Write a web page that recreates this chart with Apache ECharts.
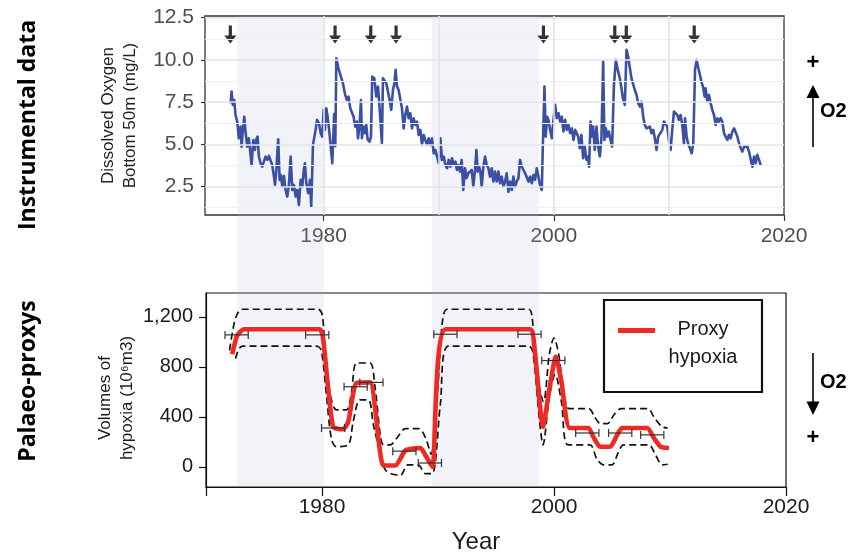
<!DOCTYPE html>
<html>
<head>
<meta charset="utf-8">
<script src="https://cdn.jsdelivr.net/npm/echarts@6/dist/echarts.min.js"></script>
<style>
  html, body { margin: 0; padding: 0; background: #fff; }
  #chart { width: 849px; height: 556px; }
</style>
</head>
<body>
<div id="chart"></div>
<script>
var FONT = '"Liberation Sans", Arial, sans-serif'

// instrumental record: dissolved oxygen at 50 m (mg/L)
var doYear = [1971.92, 1972.01, 1972.12, 1972.24, 1972.35, 1972.50, 1972.64, 1972.79, 1972.88, 1972.99,
  1973.11, 1973.22, 1973.37, 1973.51, 1973.66, 1973.75, 1973.89, 1974.04, 1974.15, 1974.27,
  1974.38, 1974.53, 1974.67, 1974.82, 1974.96, 1975.11, 1975.25, 1975.40, 1975.54, 1975.69,
  1975.78, 1975.92, 1976.06, 1976.18, 1976.30, 1976.41, 1976.56, 1976.70, 1976.85, 1976.99,
  1977.14, 1977.28, 1977.43, 1977.57, 1977.72, 1977.86, 1978.01, 1978.15, 1978.30, 1978.38,
  1978.50, 1978.67, 1978.82, 1978.93, 1979.08, 1979.20, 1979.31, 1979.43, 1979.60, 1979.75,
  1979.89, 1980.01, 1980.12, 1980.24, 1980.35, 1980.47, 1980.62, 1980.76, 1980.92, 1981.02,
  1981.11, 1981.28, 1981.45, 1981.68, 1981.88, 1982.03, 1982.17, 1982.32, 1982.46, 1982.61,
  1982.75, 1982.90, 1982.99, 1983.13, 1983.25, 1983.33, 1983.48, 1983.62, 1983.71, 1983.83,
  1984.00, 1984.12, 1984.23, 1984.41, 1984.58, 1984.73, 1984.87, 1985.07, 1985.16, 1985.30,
  1985.45, 1985.59, 1985.74, 1985.88, 1986.03, 1986.15, 1986.26, 1986.38, 1986.52, 1986.67,
  1986.81, 1986.96, 1987.10, 1987.25, 1987.39, 1987.54, 1987.68, 1987.83, 1987.97, 1988.12,
  1988.26, 1988.41, 1988.55, 1988.70, 1988.84, 1988.99, 1989.13, 1989.28, 1989.42, 1989.57,
  1989.71, 1989.86, 1990.00, 1990.15, 1990.29, 1990.44, 1990.58, 1990.73, 1990.87, 1991.02,
  1991.16, 1991.30, 1991.45, 1991.59, 1991.71, 1991.86, 1992.00, 1992.14, 1992.29, 1992.43,
  1992.58, 1992.72, 1992.87, 1993.01, 1993.16, 1993.28, 1993.39, 1993.51, 1993.62, 1993.74,
  1993.88, 1994.03, 1994.17, 1994.32, 1994.46, 1994.61, 1994.75, 1994.90, 1995.04, 1995.19,
  1995.33, 1995.48, 1995.62, 1995.77, 1995.91, 1996.06, 1996.20, 1996.35, 1996.49, 1996.64,
  1996.78, 1996.93, 1997.07, 1997.22, 1997.36, 1997.51, 1997.65, 1997.80, 1997.94, 1998.09,
  1998.23, 1998.38, 1998.52, 1998.67, 1998.81, 1998.96, 1999.04, 1999.19, 1999.30, 1999.42,
  1999.54, 1999.68, 1999.83, 1999.97, 2000.12, 2000.26, 2000.41, 2000.55, 2000.70, 2000.84,
  2000.99, 2001.13, 2001.28, 2001.42, 2001.57, 2001.71, 2001.86, 2002.12, 2002.26, 2002.40,
  2002.55, 2002.69, 2002.84, 2002.98, 2003.07, 2003.19, 2003.30, 2003.42, 2003.56, 2003.71,
  2003.85, 2004.00, 2004.14, 2004.29, 2004.40, 2004.52, 2004.64, 2004.78, 2004.93, 2005.07,
  2005.22, 2005.39, 2005.56, 2005.74, 2005.88, 2006.03, 2006.17, 2006.32, 2006.46, 2006.61,
  2006.75, 2006.90, 2007.04, 2007.19, 2007.33, 2007.48, 2007.62, 2007.77, 2007.91, 2008.06,
  2008.20, 2008.35, 2008.49, 2008.64, 2008.78, 2008.93, 2009.07, 2009.22, 2009.43, 2009.57,
  2009.71, 2009.86, 2010.00, 2010.15, 2010.29, 2010.44, 2010.58, 2010.73, 2010.87, 2011.02,
  2011.16, 2011.31, 2011.40, 2011.54, 2011.66, 2011.83, 2011.98, 2012.12, 2012.27, 2012.41,
  2012.56, 2012.70, 2012.82, 2012.96, 2013.11, 2013.19, 2013.34, 2013.48, 2013.63, 2013.77,
  2013.92, 2014.06, 2014.21, 2014.35, 2014.50, 2014.64, 2014.79, 2014.93, 2015.08, 2015.22,
  2015.37, 2015.51, 2015.66, 2015.80, 2015.95, 2016.09, 2016.24, 2016.38, 2016.53, 2016.67,
  2016.82, 2016.96, 2017.11, 2017.25, 2017.40, 2017.54, 2017.68, 2017.83, 2017.97]
var doValue = [7.43, 8.13, 7.34, 7.63, 6.74, 6.35, 5.36, 6.05, 4.87, 5.86,
  6.64, 5.76, 4.87, 5.36, 5.46, 3.78, 5.26, 4.67, 5.30, 5.46,
  4.28, 3.88, 3.68, 3.59, 4.28, 4.08, 4.32, 4.28, 3.78, 3.09,
  2.60, 3.68, 5.30, 2.90, 3.19, 2.50, 3.13, 2.30, 1.91, 2.60,
  4.28, 2.30, 2.60, 1.91, 2.30, 1.41, 2.90, 2.50, 3.59, 3.88,
  2.70, 2.11, 2.90, 1.32, 4.97, 5.07, 5.86, 6.45, 6.25, 5.66,
  5.46, 7.04, 5.86, 7.14, 6.64, 5.95, 5.95, 3.88, 6.80, 4.90,
  10.10, 9.55, 9.15, 8.62, 7.93, 7.63, 7.83, 7.14, 7.04, 6.64,
  6.05, 6.35, 5.36, 6.15, 7.63, 5.36, 6.05, 5.66, 6.15, 5.30,
  5.16, 5.46, 9.01, 8.91, 7.83, 8.42, 7.14, 5.07, 8.91, 9.01,
  8.62, 8.72, 7.63, 7.04, 8.22, 8.62, 9.41, 8.42, 8.22, 8.13,
  7.14, 5.95, 6.74, 7.24, 6.55, 6.84, 5.95, 6.55, 6.15, 6.35,
  5.56, 5.86, 4.97, 5.56, 5.26, 4.97, 5.36, 4.97, 5.36, 4.47,
  4.67, 4.28, 3.88, 5.36, 4.08, 4.28, 3.78, 3.59, 4.08, 3.68,
  4.18, 3.78, 3.98, 3.49, 3.78, 3.39, 4.08, 2.30, 3.59, 3.00,
  3.29, 3.19, 3.49, 2.50, 3.49, 4.67, 3.39, 3.68, 3.39, 2.50,
  3.68, 4.28, 3.78, 3.59, 3.09, 3.59, 2.80, 3.39, 2.80, 3.39,
  2.70, 3.09, 2.50, 2.80, 3.29, 2.20, 2.80, 2.30, 3.09, 2.50,
  2.80, 3.00, 4.08, 3.68, 3.78, 3.29, 3.39, 2.80, 3.09, 2.70,
  3.19, 2.90, 3.59, 3.59, 2.60, 2.30, 4.67, 8.42, 5.46, 6.64,
  6.45, 5.86, 5.36, 6.45, 7.34, 6.55, 6.84, 6.35, 6.64, 5.76,
  6.45, 5.86, 6.15, 5.66, 5.95, 5.26, 5.86, 5.46, 4.77, 5.56,
  4.18, 4.87, 4.08, 4.28, 3.68, 6.35, 5.46, 6.05, 4.67, 6.05,
  4.87, 4.28, 5.36, 9.90, 5.26, 5.95, 5.46, 5.76, 5.26, 4.87,
  8.42, 10.00, 9.41, 8.91, 8.32, 7.63, 7.34, 10.60, 10.20, 10.30,
  8.91, 9.01, 8.22, 7.93, 7.43, 7.24, 7.53, 6.64, 6.15, 5.95,
  5.86, 6.05, 5.66, 5.86, 5.36, 4.67, 5.46, 5.56, 5.86, 6.35,
  6.45, 6.05, 5.26, 4.67, 5.86, 6.94, 6.84, 6.74, 6.45, 6.74,
  6.15, 5.07, 6.55, 5.46, 5.07, 4.77, 4.47, 5.07, 9.41, 10.00,
  9.51, 9.11, 8.72, 8.42, 7.83, 8.32, 7.53, 7.93, 7.43, 7.04,
  6.74, 6.15, 6.55, 6.35, 6.55, 6.35, 5.66, 5.46, 5.26, 5.56,
  5.36, 5.76, 5.95, 5.86, 5.46, 5.07, 4.77, 4.57, 4.87, 4.77,
  4.87, 4.57, 4.67, 3.68, 4.28, 3.88, 4.38, 4.08, 3.78]

// reoxygenation events marked with arrows
var arrowYear = [1971.9, 1981.0, 1984.1, 1986.3, 1999.1, 2005.3, 2006.3, 2012.2]
var arrowLevel = 11.5

// palaeo-proxy reconstruction (10^6 m3)
var proxyYear = [1972.26, 1972.69, 1973.27, 1979.80, 1980.09, 1980.95, 1981.82, 1982.26, 1982.98, 1984.14,
  1985.30, 1986.32, 1987.19, 1988.49, 1988.93, 1989.51, 1990.67, 1997.94, 1998.32, 1999.05,
  1999.62, 2000.15, 2000.64, 2001.36, 2002.96, 2003.39, 2003.97, 2004.84, 2005.42, 2005.86,
  2008.03, 2008.61, 2009.19, 2009.91]
var proxyValue = [900, 1050, 1100, 1100, 1030, 320, 300, 360, 670, 675,
  10, 10, 130, 150, 90, 0, 1100, 1100, 950, 320,
  630, 880, 680, 310, 310, 240, 160, 160, 250, 310,
  310, 230, 160, 150]
var upperYear = [1972.03, 1972.55, 1973.13, 1979.65, 1980.03, 1980.23, 1980.67, 1981.25, 1982.11, 1982.55,
  1982.98, 1984.14, 1984.58, 1985.30, 1985.88, 1986.46, 1987.19, 1988.35, 1988.93, 1989.40,
  1989.94, 1990.38, 1990.81, 1997.83, 1998.12, 1998.50, 1999.10, 1999.60, 2000.00, 2000.40,
  2000.90, 2001.30, 2003.00, 2003.50, 2004.00, 2004.60, 2005.20, 2005.80, 2008.10, 2008.60,
  2009.30, 2009.80]
var upperValue = [930, 1190, 1260, 1260, 1210, 970, 600, 455, 455, 600,
  830, 830, 630, 175, 175, 230, 305, 305, 230, 100,
  575, 1160, 1260, 1260, 1190, 760, 520, 900, 1030, 900,
  560, 465, 465, 400, 345, 345, 420, 465, 465, 400,
  320, 310]
var lowerYear = [1972.55, 1973.13, 1979.51, 1979.94, 1980.38, 1980.81, 1981.25, 1982.26, 1982.69, 1983.27,
  1984.00, 1984.43, 1985.00, 1985.50, 1986.75, 1987.40, 1988.30, 1988.90, 1989.50, 1990.20,
  1990.90, 1997.83, 1998.17, 1998.76, 1999.05, 1999.60, 2000.10, 2000.64, 2001.22, 2003.10,
  2003.68, 2004.26, 2004.99, 2005.57, 2006.00, 2008.17, 2008.75, 2009.33, 2009.80]
var lowerValue = [865, 965, 965, 930, 575, 225, 160, 175, 360, 535,
  535, 335, 120, -30, -70, 15, 15, -55, -55, 500,
  965, 965, 920, 360, 175, 560, 740, 520, 175, 175,
  65, 15, 15, 120, 175, 175, 95, 15, 20]
var errYear = [1972.64, 1979.59, 1980.96, 1982.90, 1984.26, 1987.10, 1989.30, 1990.64, 1997.89, 1999.94,
  2002.87, 2005.71, 2008.47]
var errValue = [1055, 1055, 310, 640, 675, 125, 30, 1060, 1060, 850, 270, 270, 255]
var errHalf = [1.0, 1.0, 1.0, 1.0, 1.0, 1.0, 1.0, 1.0, 1.0, 1.0, 1.0, 1.0, 1.0]

// shaded periods
var bandStart = [1972.5, 1989.4]
var bandEnd = [1980.0, 1998.7]

// ticks and grid lines
var topTicksX = [1980, 2000, 2020]
var bottomTicksX = [1970, 1980, 2000, 2020]
var doTicks = [2.5, 5, 7.5, 10, 12.5]
var doMinor = [1.25, 3.75, 6.25, 8.75, 11.25]
var gridMajorX = [1980, 2000]
var gridMinorX = [1990, 2010]
var hypTicks = [0, 400, 800, 1200]

function pairs(xs, ys) {
  return xs.map(function(x, i) { return [x, ys[i]] })
}

var majorLine = { color: '#e4e4e4', width: 1.6, type: 'solid' }
var minorLine = { color: '#efefef', width: 1, type: 'solid' }
var gridLines = []
doTicks.forEach(function(v) { gridLines.push({ yAxis: v, lineStyle: majorLine }) })
doMinor.forEach(function(v) { gridLines.push({ yAxis: v, lineStyle: minorLine }) })
gridMajorX.forEach(function(v) { gridLines.push({ xAxis: v, lineStyle: majorLine }) })
gridMinorX.forEach(function(v) { gridLines.push({ xAxis: v, lineStyle: majorLine }) })

function renderErr(params, api) {
  var x = api.value(0)
  var y = api.value(1)
  var h = api.value(2)
  var a = api.coord([x - h, y])
  var b = api.coord([x + h, y])
  var st = { stroke: '#333', lineWidth: 1.2 }
  return {
    type: 'group',
    children: [
      { type: 'line', shape: { x1: a[0], y1: a[1], x2: b[0], y2: b[1] }, style: st },
      { type: 'line', shape: { x1: a[0], y1: a[1] - 4, x2: a[0], y2: a[1] + 4 }, style: st },
      { type: 'line', shape: { x1: b[0], y1: b[1] - 4, x2: b[0], y2: b[1] + 4 }, style: st }
    ]
  }
}

var chart = echarts.init(document.getElementById('chart'), null, { renderer: 'canvas' })

chart.setOption({
  animation: false,
  backgroundColor: '#fff',
  textStyle: { fontFamily: FONT },
  grid: [
    { left: 205, right: 65, top: 16, bottom: 341, show: true, borderColor: '#333', borderWidth: 1.3, backgroundColor: 'transparent', outerBoundsMode: 'none' },
    { left: 206, right: 63, top: 293, bottom: 69, show: true, borderColor: '#111', borderWidth: 1.2, backgroundColor: 'transparent', outerBoundsMode: 'none' },
    { left: 205, right: 65, top: 16, bottom: 69, outerBoundsMode: 'none' }
  ],
  xAxis: [
    {
      gridIndex: 0, type: 'value', min: 1969.7, max: 2020,
      axisLine: { show: false, onZero: false },
      axisTick: { show: true, length: 6, customValues: topTicksX, lineStyle: { color: '#333', width: 1.2 } },
      axisLabel: {
        customValues: topTicksX, color: '#4d4d4d', fontSize: 21, margin: 11, fontFamily: FONT,
        formatter: function(v) { return v % 20 === 0 ? String(v) : '' }
      },
      splitLine: { show: false }
    },
    {
      gridIndex: 1, type: 'value', min: 1970, max: 2020,
      axisLine: { show: true, onZero: false, lineStyle: { color: '#111', width: 1.2 } },
      axisTick: { show: true, length: 9, customValues: bottomTicksX, lineStyle: { color: '#111', width: 1.2 } },
      axisLabel: {
        customValues: topTicksX, color: '#1a1a1a', fontSize: 21, margin: 10, fontFamily: FONT,
        formatter: function(v) { return v % 20 === 0 ? String(v) : '' }
      },
      splitLine: { show: false },
      name: 'Year', nameLocation: 'middle', nameGap: 43,
      nameTextStyle: { fontSize: 24, color: '#1a1a1a', fontFamily: FONT, padding: [0, 40, 0, 0] }
    },
    { gridIndex: 2, type: 'value', min: 1969.7, max: 2020, show: false }
  ],
  yAxis: [
    {
      gridIndex: 0, type: 'value', min: 0.82, max: 12.6,
      axisLine: { show: false, onZero: false },
      axisTick: { show: true, length: 4, customValues: doTicks, lineStyle: { color: '#333', width: 1.2 } },
      axisLabel: {
        customValues: doTicks, color: '#4d4d4d', fontSize: 21, margin: 11, fontFamily: FONT,
        formatter: function(v) { return v.toFixed(1) }
      },
      splitLine: { show: false },
      name: 'Dissolved Oxygen\nBottom 50m (mg/L)', nameLocation: 'middle', nameRotate: 90, nameGap: 64,
      nameTextStyle: { fontSize: 17, lineHeight: 22, color: '#222', fontFamily: FONT }
    },
    {
      gridIndex: 1, type: 'value', min: -162, max: 1390,
      axisLine: { show: true, onZero: false, lineStyle: { color: '#111', width: 1.2 } },
      axisTick: { show: true, length: 7, customValues: hypTicks, lineStyle: { color: '#111', width: 1.2 } },
      axisLabel: {
        customValues: hypTicks, color: '#1a1a1a', fontSize: 20, margin: 13, fontFamily: FONT,
        formatter: function(v) { return v.toLocaleString('en-US') }
      },
      splitLine: { show: false },
      name: 'Volumes of\nhypoxia (10\u2076m3)', nameLocation: 'middle', nameRotate: 90, nameGap: 68,
      nameMoveOverlap: false,
      nameTextStyle: { fontSize: 17, lineHeight: 22, color: '#1a1a1a', fontFamily: FONT, padding: [0, 16, 0, 0] }
    },
    { gridIndex: 2, type: 'value', min: 0, max: 1, show: false }
  ],
  legend: {
    data: ['Proxy hypoxia'],
    left: 604, top: 300,
    orient: 'vertical',
    borderColor: '#111', borderWidth: 2.2, borderRadius: 0,
    padding: [19, 16, 25, 14],
    itemWidth: 37, itemHeight: 30, itemGap: 0,
    icon: 'path://M0,0H37V5H0Z M0,30H0.01V30.01H0Z',
    itemStyle: { color: '#ee2a24', borderWidth: 0 },
    formatter: function() { return '{a|Proxy}\n{a|hypoxia}' },
    textStyle: {
      rich: { a: { width: 86, align: 'center', fontSize: 20, lineHeight: 28, color: '#1a1a1a', fontFamily: FONT } }
    },
    selectedMode: false
  },
  graphic: [
    { type: 'text', x: 28, y: 125, rotation: Math.PI / 2,
      style: { text: 'Instrumental data', fontFamily: '"Open Sans", sans-serif', fontWeight: 'bold', fontSize: 23, fill: '#000', textAlign: 'center', textVerticalAlign: 'middle' } },
    { type: 'text', x: 28, y: 381, rotation: Math.PI / 2,
      style: { text: 'Palaeo-proxys', fontFamily: '"Open Sans", sans-serif', fontWeight: 'bold', fontSize: 23, fill: '#000', textAlign: 'center', textVerticalAlign: 'middle' } },
    // oxygen direction markers
    { type: 'text', x: 813, y: 63, style: { text: '+', fontFamily: FONT, fontWeight: 'bold', fontSize: 22, fill: '#000', textAlign: 'center', textVerticalAlign: 'middle' } },
    { type: 'line', shape: { x1: 813, y1: 147, x2: 813, y2: 95 }, style: { stroke: '#000', lineWidth: 1.6 } },
    { type: 'polygon', shape: { points: [[813, 85], [806.5, 98], [819.5, 98]] }, style: { fill: '#000' } },
    { type: 'text', x: 820, y: 111, style: { text: 'O2', fontFamily: FONT, fontWeight: 'bold', fontSize: 20, fill: '#000', textAlign: 'left', textVerticalAlign: 'middle' } },
    { type: 'line', shape: { x1: 813, y1: 353, x2: 813, y2: 405 }, style: { stroke: '#000', lineWidth: 1.6 } },
    { type: 'polygon', shape: { points: [[813, 415], [806.5, 401.5], [819.5, 401.5]] }, style: { fill: '#000' } },
    { type: 'text', x: 820, y: 382, style: { text: 'O2', fontFamily: FONT, fontWeight: 'bold', fontSize: 20, fill: '#000', textAlign: 'left', textVerticalAlign: 'middle' } },
    { type: 'text', x: 813, y: 438, style: { text: '+', fontFamily: FONT, fontWeight: 'bold', fontSize: 22, fill: '#000', textAlign: 'center', textVerticalAlign: 'middle' } }
  ],
  series: [
    {
      name: 'gridlines', type: 'line', xAxisIndex: 0, yAxisIndex: 0, z: 0, silent: true,
      data: [[2000, 5]], symbol: 'none', lineStyle: { opacity: 0 },
      markLine: { symbol: 'none', silent: true, label: { show: false }, animation: false, data: gridLines }
    },
    {
      name: 'bands', type: 'line', xAxisIndex: 2, yAxisIndex: 2, z: 1, silent: true,
      data: [[1975, 0.5]], symbol: 'none', lineStyle: { opacity: 0 },
      markArea: {
        silent: true,
        itemStyle: { color: 'rgba(170,180,220,0.16)' },
        data: bandStart.map(function(s, i) { return [{ xAxis: s }, { xAxis: bandEnd[i] }] })
      }
    },
    {
      name: 'Dissolved oxygen', type: 'line', xAxisIndex: 0, yAxisIndex: 0, z: 3,
      data: pairs(doYear, doValue), showSymbol: false, symbol: 'none',
      lineStyle: { color: '#3b50a3', width: 2.6, join: 'round' }
    },
    {
      name: 'Events', type: 'scatter', xAxisIndex: 0, yAxisIndex: 0, z: 4,
      data: arrowYear.map(function(y) { return [y, arrowLevel] }),
      symbol: 'path://M4.4,0H7.6V10H12L6,18L0,10H4.4Z', symbolSize: [12, 18],
      itemStyle: { color: '#000' }
    },
    {
      name: 'Upper', type: 'line', xAxisIndex: 1, yAxisIndex: 1, z: 3,
      data: pairs(upperYear, upperValue), symbol: 'none', smooth: 0.3,
      lineStyle: { color: '#111', width: 1.7, type: [7, 4] }
    },
    {
      name: 'Lower', type: 'line', xAxisIndex: 1, yAxisIndex: 1, z: 3,
      data: pairs(lowerYear, lowerValue), symbol: 'none', smooth: 0.3,
      lineStyle: { color: '#111', width: 1.7, type: [7, 4] }
    },
    {
      name: 'Proxy hypoxia', type: 'line', xAxisIndex: 1, yAxisIndex: 1, z: 4,
      data: pairs(proxyYear, proxyValue), symbol: 'none', smooth: 0.2,
      color: '#ee2a24',
      itemStyle: { color: '#ee2a24' },
      lineStyle: { color: '#ee2a24', width: 4.6 }
    },
    {
      name: 'Age error', type: 'custom', xAxisIndex: 1, yAxisIndex: 1, z: 5,
      renderItem: renderErr,
      encode: { x: 0, y: 1 },
      data: errYear.map(function(y, i) { return [y, errValue[i], errHalf[i]] })
    }
  ]
})
</script>
</body>
</html>
